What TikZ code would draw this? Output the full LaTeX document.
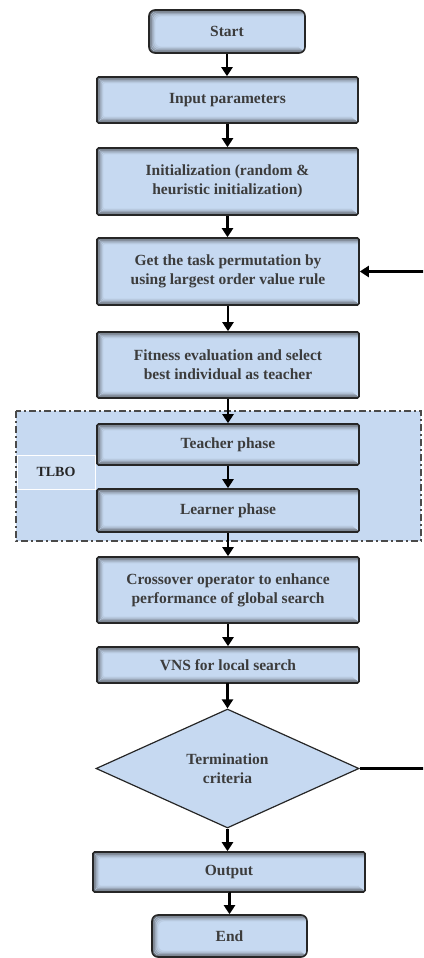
\documentclass[tikz,border=0pt]{standalone}
\usepackage{fontspec}
\setmainfont{Liberation Serif}
\usetikzlibrary{shapes.geometric,arrows.meta}
\definecolor{boxfill}{HTML}{C6D9F1}
\definecolor{boxline}{HTML}{262626}
\definecolor{txt}{HTML}{3C3C3C}
\definecolor{frameline}{HTML}{4A4A4A}
\tikzset{
  edgeshade/.style={
    path picture={
      \foreach \i/\o in {1/0.6,2.2/0.42,3.4/0.28,4.6/0.16,5.8/0.07}{
        \draw[black!80,opacity=\o,line width=1.2pt]
          ([xshift=\i pt,yshift=-\i pt]path picture bounding box.north east)
          -- ([xshift=\i pt,yshift=-\i pt]path picture bounding box.north west)
          -- ([xshift=\i pt,yshift=\i pt]path picture bounding box.south west)
          -- ([xshift=-\i pt,yshift=\i pt]path picture bounding box.south east);
      }
    }},
  flowbox/.style={draw=boxline,line width=1.6pt,fill=boxfill,rectangle,
    rounded corners=1.5pt,inner sep=0pt,align=center,text=txt,
    font=\bfseries\fontsize{15.5}{19}\selectfont,edgeshade},
  termbox/.style={flowbox,rounded corners=6pt},
  decision/.style={draw=boxline,line width=1.2pt,fill=boxfill,diamond,
    inner sep=0pt,align=center,text=txt,
    font=\bfseries\fontsize{15.5}{19}\selectfont},
  flow/.style={line width=2.4pt,-{Triangle[width=11pt,length=9pt]}},
  loopline/.style={line width=2.4pt},
  groupframe/.style={draw=frameline,fill=boxfill,line width=1.6pt,
    dash pattern=on 7pt off 3pt on 2pt off 3pt},
  grouplabel/.style={draw=white,line width=0.8pt,fill=boxfill!85!white,
    inner sep=0pt,text=black!85,font=\bfseries\fontsize{14}{16}\selectfont}
}
\begin{document}
\begin{tikzpicture}[x=1pt,y=-1pt]
\useasboundingbox (0,0) rectangle (423,958);
\clip (0,0) rectangle (423,958);

% TLBO group frame
\draw[groupframe] (16,411) rectangle (421,541);
\node[grouplabel,minimum width=78pt,minimum height=34pt] (tlbo) at (56,472) {TLBO};

% process steps
\node[termbox,minimum width=156pt,minimum height=43pt] (start) at (227,31.5) {Start};
\node[flowbox,minimum width=261pt,minimum height=46pt] (input) at (227.5,100) {Input parameters};
\node[flowbox,minimum width=261pt,minimum height=67pt] (init) at (227.5,181.5) {Initialization (random \&\\heuristic initialization)};
\node[flowbox,minimum width=262pt,minimum height=67pt] (task) at (228,271.5) {Get the task permutation by\\using largest order value rule};
\node[flowbox,minimum width=262pt,minimum height=66pt] (fit) at (228,365) {Fitness evaluation and select\\best individual as teacher};
\node[flowbox,minimum width=262pt,minimum height=41pt] (teach) at (228,444.5) {Teacher phase};
\node[flowbox,minimum width=262pt,minimum height=43pt] (learn) at (228,510.5) {Learner phase};
\node[flowbox,minimum width=262pt,minimum height=66pt] (cross) at (228,590) {Crossover operator to enhance\\performance of global search};
\node[flowbox,minimum width=262pt,minimum height=36pt] (vns) at (228,665) {VNS for local search};
\node[decision,minimum width=263pt,minimum height=119pt] (term) at (227.5,768.5) {Termination\\criteria};
\node[flowbox,minimum width=272pt,minimum height=40pt] (out) at (229,872) {Output};
\node[termbox,minimum width=155pt,minimum height=42pt] (end) at (229.5,936) {End};

% main flow
\draw[flow] (start.south) -- (start.south |- input.north);
\draw[flow] (input.south) -- (input.south |- init.north);
\draw[flow] (init.south) -- (init.south |- task.north);
\draw[flow] (task.south) -- (task.south |- fit.north);
\draw[flow] (fit.south) -- (fit.south |- teach.north);
\draw[flow] (teach.south) -- (teach.south |- learn.north);
\draw[flow] (learn.south) -- (learn.south |- cross.north);
\draw[flow] (cross.south) -- (cross.south |- vns.north);
\draw[flow] (vns.south) -- (vns.south -| term.north) -- (term.north);
\draw[flow] (term.south) -- (term.south |- out.north);
\draw[flow] (out.south) -- (out.south -| end.north) -- (end.north);

% feedback loop back to the permutation step
\coordinate (loopx) at (426,0);
\draw[loopline] (term.east) -- (term.east -| loopx) -- (task.east -| loopx);
\draw[flow] (task.east -| loopx) -- (task.east);
\end{tikzpicture}
\end{document}
